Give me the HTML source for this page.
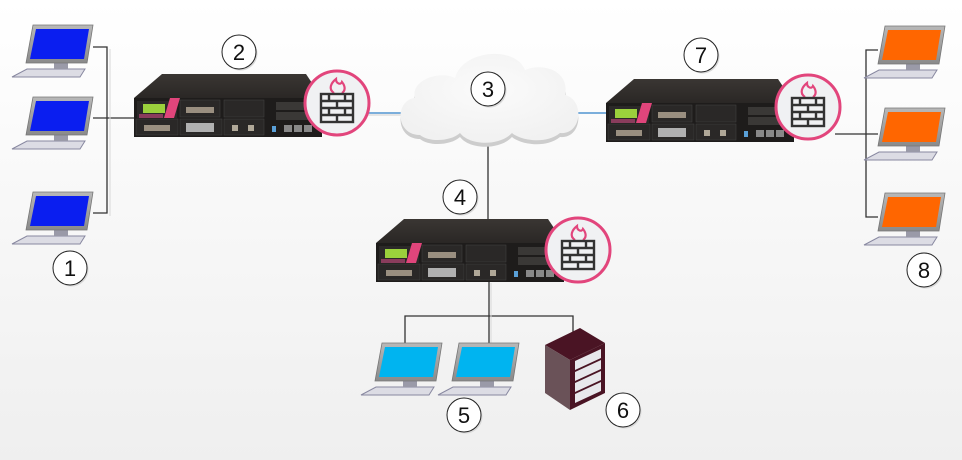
<!DOCTYPE html>
<html><head><meta charset="utf-8"><style>
html,body{margin:0;padding:0;}
body{width:962px;height:460px;overflow:hidden;background:linear-gradient(#ffffff,#efefef);font-family:"Liberation Sans","DejaVu Sans",sans-serif;}
svg{position:absolute;left:0;top:0;}
</style></head><body>
<svg width="962" height="460" viewBox="0 0 962 460" xmlns="http://www.w3.org/2000/svg">
<defs>
<linearGradient id="frame" x1="0" y1="0" x2="0" y2="1"><stop offset="0" stop-color="#b8b8b8"/><stop offset="1" stop-color="#8a8a8a"/></linearGradient>
<linearGradient id="top" x1="0" y1="0" x2="0" y2="1"><stop offset="0" stop-color="#3a3633"/><stop offset="1" stop-color="#2a2725"/></linearGradient>
<radialGradient id="cloud" cx="0.5" cy="0.4" r="0.6"><stop offset="0" stop-color="#fbfbfb"/><stop offset="1" stop-color="#f1f1f1"/></radialGradient>
<g id="lap">
 <polygon points="1,44 59,44 54,52 -14,52" fill="#dcdce4" stroke="#8888a0" stroke-width="1"/>
 <rect x="28" y="38" width="14" height="6" fill="#9a9aa8"/>
 <polygon points="7,0 67,0 61,38 0,38" fill="url(#frame)" stroke="#777" stroke-width="0.8"/>
</g>
<g id="app">
 <polygon points="28,-24 172,-24 188,0 0,0" fill="url(#top)"/>
 <rect x="0" y="0" width="188" height="39" fill="#1e1c1b"/>
 <rect x="3" y="3" width="40" height="17" fill="#2b2928"/>
 <rect x="9" y="6" width="22" height="9" fill="#9bd13c"/>
 <polygon points="36,0 46,0 40,20 30,20" fill="#e0457b"/>
 <rect x="5" y="16" width="24" height="4" fill="#8a3c5c"/>
 <rect x="46" y="2" width="40" height="17" fill="#2a2827" stroke="#444" stroke-width="0.5"/>
 <rect x="90" y="2" width="40" height="17" fill="#2a2827" stroke="#444" stroke-width="0.5"/>
 <rect x="2" y="21" width="42" height="16" fill="#2a2827" stroke="#444" stroke-width="0.5"/>
 <rect x="46" y="21" width="42" height="16" fill="#2a2827" stroke="#444" stroke-width="0.5"/>
 <rect x="90" y="21" width="40" height="16" fill="#2a2827" stroke="#444" stroke-width="0.5"/>
 <rect x="10" y="27" width="26" height="6" fill="#9a8f80"/>
 <rect x="52" y="9" width="28" height="6" fill="#9a8f80"/>
 <rect x="52" y="25" width="28" height="9" fill="#b0b0b0"/>
 <rect x="98" y="27" width="6" height="6" fill="#b0a898"/>
 <rect x="114" y="27" width="6" height="6" fill="#b0a898"/>
 <rect x="142" y="4" width="40" height="8" fill="#3a3836"/>
 <rect x="142" y="14" width="40" height="8" fill="#3a3836"/>
 <rect x="138" y="28" width="4" height="6" fill="#5aa0d8"/>
 <rect x="150" y="27" width="8" height="7" fill="#888"/>
 <rect x="160" y="27" width="8" height="7" fill="#888"/>
 <rect x="170" y="27" width="8" height="7" fill="#888"/>
</g>
<g id="fw">
 <circle cx="0" cy="0" r="32" fill="#f0f1f3" stroke="#e2457c" stroke-width="3"/>
 <path d="M-3,-10 C-9,-14 -6,-20 -1,-24 C-1,-19 4,-18 5,-21 C9,-16 8,-12 5,-10" fill="none" stroke="#e2457c" stroke-width="2.2"/>
 <g fill="none" stroke="#333" stroke-width="2.4">
  <rect x="-16" y="-9" width="32" height="28"/>
  <line x1="-16" y1="-2" x2="16" y2="-2"/><line x1="-16" y1="5" x2="16" y2="5"/><line x1="-16" y1="12" x2="16" y2="12"/>
  <line x1="-8" y1="-9" x2="-8" y2="-2"/><line x1="8" y1="-9" x2="8" y2="-2"/>
  <line x1="0" y1="-2" x2="0" y2="5"/>
  <line x1="-8" y1="5" x2="-8" y2="12"/><line x1="8" y1="5" x2="8" y2="12"/>
  <line x1="0" y1="12" x2="0" y2="19"/>
 </g>
</g>
<g id="num"><circle cx="1.5" cy="1.5" r="17" fill="#d8d8d8"/><circle cx="0" cy="0" r="17" fill="#fff" stroke="#222" stroke-width="1"/></g>
</defs>

<g stroke="#333" stroke-width="1.3" fill="none">
 <polyline points="93,47 107,47 107,213 93,213"/>
 <line x1="93" y1="118" x2="134" y2="118"/>
 <polyline points="878,50 866,50 866,217 878,217"/>
 <line x1="835" y1="134" x2="878" y2="134"/>
 <line x1="488" y1="133" x2="488" y2="222"/>
 <line x1="489" y1="282" x2="489" y2="343"/>
 <polyline points="405,343 405,316 573,316 573,332"/>
</g>
<g stroke="#d8d8d8" stroke-width="1" fill="none">
 <polyline points="110,49 110,216"/>
 <line x1="491" y1="283" x2="491" y2="343"/>
</g>
<g stroke="#2f7fc8" stroke-width="1.2">
 <line x1="368" y1="113" x2="402" y2="113"/>
 <line x1="573" y1="113" x2="606" y2="113"/>
</g>
<line x1="368" y1="115" x2="402" y2="115" stroke="#cfcfcf"/>

<g>
 <path d="M420,135 C395,135 395,100 415,98 C410,80 440,70 455,78 C462,50 515,45 525,70 C545,62 570,72 565,95 C585,100 582,135 560,133 C545,145 520,140 512,133 C500,146 470,146 460,133 C450,142 428,142 420,135 Z" fill="#cdcdcd" transform="translate(0,4)"/>
 <path d="M420,135 C395,135 395,100 415,98 C410,80 440,70 455,78 C462,50 515,45 525,70 C545,62 570,72 565,95 C585,100 582,135 560,133 C545,145 520,140 512,133 C500,146 470,146 460,133 C450,142 428,142 420,135 Z" fill="url(#cloud)"/>
</g>

<use href="#app" x="134" y="98"/>
<use href="#fw" x="337" y="103"/>
<use href="#app" x="606" y="103"/>
<use href="#fw" x="808" y="107"/>
<use href="#app" x="376" y="243"/>
<use href="#fw" x="578" y="250"/>

<use href="#lap" x="26" y="25"/><polygon points="36,29 89,29 84,59 30,59" fill="#0a1ef0"/>
<use href="#lap" x="26" y="97"/><polygon points="36,101 89,101 84,131 30,131" fill="#0a1ef0"/>
<use href="#lap" x="26" y="192"/><polygon points="36,196 89,196 84,226 30,226" fill="#0a1ef0"/>

<use href="#lap" x="878" y="26"/><polygon points="888,30 941,30 936,60 882,60" fill="#ff6600"/>
<use href="#lap" x="878" y="108"/><polygon points="888,112 941,112 936,142 882,142" fill="#ff6600"/>
<use href="#lap" x="878" y="193"/><polygon points="888,197 941,197 936,227 882,227" fill="#ff6600"/>
<use href="#lap" x="375" y="343"/><polygon points="385,347 438,347 433,377 379,377" fill="#00b4f0"/>
<use href="#lap" x="452" y="343"/><polygon points="462,347 515,347 510,377 456,377" fill="#00b4f0"/>

<polygon points="545,345 580,328 605,343 570,360" fill="#4a1424"/>
<polygon points="545,345 570,360 570,410 545,393" fill="#6a5258"/>
<polygon points="570,360 605,343 605,393 570,410" fill="#4a1424"/>
<g fill="#e8e8ec">
 <polygon points="575,361 601,349 601,358 575,370"/>
 <polygon points="575,372 601,360 601,369 575,381"/>
 <polygon points="575,383 601,371 601,380 575,392"/>
 <polygon points="575,394 601,382 601,391 575,403"/>
</g>

<g font-size="22" text-anchor="middle" fill="#111">
 <use href="#num" x="239" y="52"/><text x="239" y="60">2</text>
 <use href="#num" x="70" y="268"/><text x="70" y="276">1</text>
 <use href="#num" x="488" y="89"/><text x="488" y="97">3</text>
 <use href="#num" x="460" y="197"/><text x="460" y="205">4</text>
 <use href="#num" x="464" y="415"/><text x="464" y="423">5</text>
 <use href="#num" x="623" y="410"/><text x="623" y="418">6</text>
 <use href="#num" x="701" y="55"/><text x="701" y="63">7</text>
 <use href="#num" x="924" y="270"/><text x="924" y="278">8</text>
</g>
</svg>
</body></html>
